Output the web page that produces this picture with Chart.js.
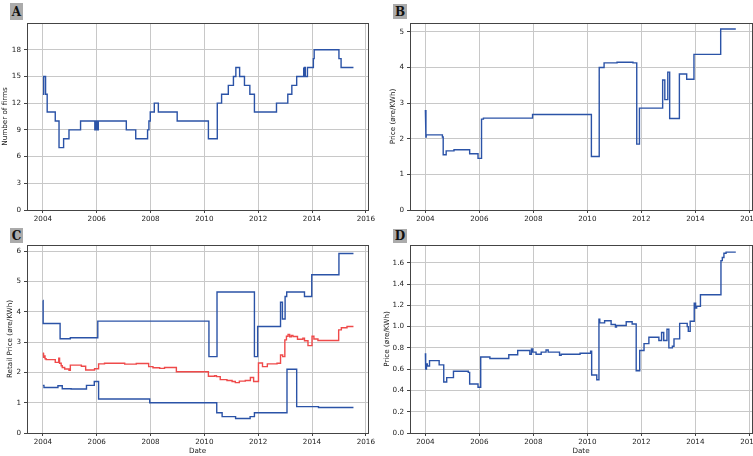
<!DOCTYPE html>
<html>
<head>
<meta charset="utf-8">
<script src="https://cdn.jsdelivr.net/npm/chart.js@4.4.1/dist/chart.umd.min.js"></script>
<style>
  html, body { margin: 0; padding: 0; width: 753px; height: 456px; overflow: hidden; background: #fff; }
  canvas { position: absolute; }
  .tag {
    position: absolute; background: #ababab; color: #111;
    font: bold 12px "DejaVu Serif", "Liberation Serif", serif;
    display: flex; align-items: center; justify-content: center; line-height: 1;
  }
</style>
</head>
<body>
<canvas id="panelA" width="376" height="228" style="left:0;top:0"></canvas>
<canvas id="panelB" width="400" height="228" style="left:376px;top:0"></canvas>
<canvas id="panelC" width="376" height="228" style="left:0;top:228px"></canvas>
<canvas id="panelD" width="400" height="228" style="left:376px;top:228px"></canvas>
<div class="tag" style="left:10px;top:3px;width:13px;height:17px">A</div>
<div class="tag" style="left:393px;top:4px;width:14px;height:15px">B</div>
<div class="tag" style="left:10px;top:228px;width:13px;height:15px">C</div>
<div class="tag" style="left:393px;top:229px;width:14px;height:14px">D</div>
<script>
// Shared x ticks (years)
const yearTicks = [2004, 2006, 2008, 2010, 2012, 2014, 2016];

// A: number of firms (each value holds from its date until the next date)
const firmDates = [2004.00, 2004.01, 2004.04, 2004.10, 2004.16, 2004.46, 2004.60, 2004.77, 2004.97, 2005.40,
  2005.93, 2005.98, 2006.02, 2006.06, 2007.10, 2007.45, 2007.89, 2007.94, 2007.99, 2008.14, 2008.29, 2008.99,
  2010.15, 2010.48, 2010.64, 2010.89, 2011.08, 2011.17, 2011.31, 2011.49, 2011.69, 2011.86, 2012.68, 2013.10,
  2013.25, 2013.43, 2013.67, 2013.70, 2013.72, 2013.75, 2013.83, 2014.05, 2014.08, 2015.00, 2015.08, 2015.54];
const firmCounts = [13, 14, 15, 13, 11, 10, 7, 8, 9, 10,
  9, 10, 9, 10, 9, 8, 9, 10, 11, 12, 11, 10,
  8, 12, 13, 14, 15, 16, 15, 14, 13, 11, 12, 13,
  14, 15, 16, 15, 16, 15, 16, 17, 18, 17, 16, 16];
const firmTicks = [0, 3, 6, 9, 12, 15, 18];

// B: price (øre/KWh)
const priceBDates = [2004.00, 2004.02, 2004.03, 2004.63, 2004.66, 2004.77, 2005.06, 2005.64, 2005.95, 2006.08,
  2006.15, 2007.97, 2010.15, 2010.44, 2010.62, 2011.10, 2011.69, 2011.83, 2011.93, 2012.79, 2012.87, 2012.98,
  2013.05, 2013.41, 2013.68, 2013.95, 2014.94, 2015.50];
const priceBValues = [2.81, 2.05, 2.11, 2.05, 1.55, 1.66, 1.69, 1.58, 1.45, 2.55,
  2.58, 2.68, 1.50, 4.00, 4.13, 4.15, 4.13, 1.85, 2.86, 3.65, 3.10, 3.87,
  2.57, 3.82, 3.67, 4.37, 5.08, 5.08];
const priceBTicks = [0, 1, 2, 3, 4, 5];

// C: retail price (øre/KWh) – highest, average and lowest offer
const retailHighDates = [2004.00, 2004.01, 2004.64, 2005.02, 2006.04, 2010.17, 2010.47, 2011.86, 2011.98, 2012.83,
  2012.90, 2013.00, 2013.06, 2013.72, 2013.99, 2015.00, 2015.54];
const retailHigh = [4.37, 3.61, 3.11, 3.14, 3.69, 2.52, 4.65, 2.52, 3.51, 4.31,
  3.76, 4.50, 4.65, 4.50, 5.22, 5.92, 5.92];

const retailMeanDates = [2004.00, 2004.02, 2004.03, 2004.05, 2004.08, 2004.12, 2004.46, 2004.59, 2004.62, 2004.68,
  2004.72, 2004.81, 2004.97, 2005.02, 2005.43, 2005.59, 2005.92, 2006.07, 2006.29, 2007.04, 2007.47, 2007.93,
  2008.09, 2008.34, 2008.52, 2008.96, 2010.15, 2010.38, 2010.45, 2010.59, 2010.84, 2011.03, 2011.15, 2011.30,
  2011.52, 2011.71, 2011.83, 2012.01, 2012.16, 2012.34, 2012.70, 2012.83, 2012.91, 2012.99, 2013.05, 2013.11,
  2013.17, 2013.23, 2013.29, 2013.46, 2013.66, 2013.72, 2013.85, 2014.00, 2014.07, 2014.22, 2014.99, 2015.09,
  2015.30, 2015.54];
const retailMean = [2.63, 2.56, 2.50, 2.54, 2.45, 2.42, 2.33, 2.47, 2.30, 2.22,
  2.16, 2.11, 2.07, 2.24, 2.20, 2.08, 2.12, 2.28, 2.30, 2.27, 2.29, 2.19,
  2.15, 2.13, 2.16, 2.02, 1.87, 1.89, 1.86, 1.76, 1.73, 1.70, 1.66, 1.71,
  1.73, 1.83, 1.70, 2.31, 2.19, 2.28, 2.30, 2.57, 2.52, 3.07, 3.19, 3.25,
  3.17, 3.22, 3.18, 3.09, 3.13, 3.04, 2.88, 3.19, 3.10, 3.05, 3.40, 3.47,
  3.51, 3.51];

const retailLowDates = [2004.00, 2004.04, 2004.56, 2004.72, 2005.05, 2005.62, 2005.91, 2006.07, 2007.97, 2010.46,
  2010.66, 2011.16, 2011.70, 2011.86, 2013.07, 2013.43, 2014.24, 2015.54];
const retailLow = [1.57, 1.50, 1.56, 1.46, 1.45, 1.57, 1.70, 1.12, 1.00, 0.67,
  0.54, 0.48, 0.54, 0.67, 2.10, 0.87, 0.84, 0.84];
const retailTicks = [0, 1, 2, 3, 4, 5, 6];

// D: price (øre/KWh)
const priceDDates = [2004.00, 2004.01, 2004.04, 2004.07, 2004.14, 2004.16, 2004.51, 2004.68, 2004.79, 2005.04,
  2005.59, 2005.64, 2005.95, 2006.05, 2006.39, 2007.09, 2007.42, 2007.87, 2007.93, 2007.98, 2008.10, 2008.29,
  2008.47, 2008.55, 2008.97, 2009.03, 2009.73, 2010.12, 2010.16, 2010.35, 2010.43, 2010.46, 2010.64, 2010.88,
  2011.04, 2011.08, 2011.44, 2011.66, 2011.81, 2011.94, 2012.10, 2012.28, 2012.65, 2012.75, 2012.83, 2012.95,
  2013.02, 2013.15, 2013.21, 2013.42, 2013.70, 2013.74, 2013.81, 2013.96, 2014.01, 2014.05, 2014.19, 2014.95,
  2015.00, 2015.06, 2015.14, 2015.50];
const priceDValues = [0.75, 0.60, 0.65, 0.63, 0.66, 0.68, 0.64, 0.48, 0.52, 0.58,
  0.57, 0.46, 0.43, 0.715, 0.70, 0.735, 0.775, 0.74, 0.79, 0.76, 0.74, 0.76,
  0.78, 0.76, 0.73, 0.74, 0.75, 0.77, 0.545, 0.50, 1.07, 1.035, 1.055, 1.02,
  0.995, 1.01, 1.045, 1.025, 0.585, 0.775, 0.84, 0.90, 0.87, 0.945, 0.87, 0.975,
  0.80, 0.815, 0.885, 1.03, 1.00, 0.955, 1.05, 1.22, 1.175, 1.19, 1.30, 1.62,
  1.65, 1.69, 1.70, 1.70];
const priceDTicks = [0, 0.2, 0.4, 0.6, 0.8, 1.0, 1.2, 1.4, 1.6];

const BLUE = '#2b53a7';
const RED = '#ef4a4a';
const FONT = { family: 'DejaVu Sans', size: 7.2 };
const TEXT = '#222';

// Expand change points into a step line
function stepPoints(dates, values) {
  const pts = [];
  for (let i = 0; i < dates.length; i++) {
    if (i > 0) pts.push({ x: dates[i], y: values[i - 1] });
    pts.push({ x: dates[i], y: values[i] });
  }
  return pts;
}

// Axes frame drawn on all four sides
const framePlugin = {
  id: 'frame',
  afterDraw(chart) {
    const { ctx, chartArea: a } = chart;
    const al = v => Math.round(v - 0.5) + 0.5;
    const x0 = al(a.left), x1 = al(a.right), y0 = al(a.top), y1 = al(a.bottom);
    ctx.save();
    ctx.strokeStyle = '#444';
    ctx.lineWidth = 1;
    ctx.strokeRect(x0, y0, x1 - x0, y1 - y0);
    ctx.restore();
  }
};

function makePanel(id, cfg) {
  return new Chart(document.getElementById(id), {
    type: 'line',
    data: {
      datasets: cfg.series.map(s => ({
        data: stepPoints(s.dates, s.values),
        borderColor: s.color,
        borderWidth: 1.4,
        pointRadius: 0,
        fill: false,
        tension: 0
      }))
    },
    options: {
      responsive: false,
      animation: false,
      events: [],
      layout: { padding: cfg.padding },
      plugins: { legend: { display: false }, tooltip: { enabled: false } },
      scales: {
        x: {
          type: 'linear',
          min: cfg.xMin, max: cfg.xMax,
          afterBuildTicks: s => { s.ticks = yearTicks.map(v => ({ value: v })); },
          afterFit: s => { s.height = cfg.xHeight; s.paddingLeft = 0; s.paddingRight = 0; },
          grid: { color: '#c8c8c8', lineWidth: 1, tickLength: 3, tickColor: '#444' },
          border: { display: false },
          ticks: { font: FONT, color: TEXT, padding: 1.5, maxRotation: 0, autoSkip: false,
                   callback: v => String(v) },
          title: cfg.xTitle
            ? { display: true, text: cfg.xTitle, font: FONT, color: TEXT, padding: { top: 0, bottom: 1 } }
            : { display: false }
        },
        y: {
          type: 'linear',
          min: 0, max: cfg.yMax,
          afterBuildTicks: s => { s.ticks = cfg.yTicks.map(v => ({ value: v })); },
          afterFit: s => { s.width = cfg.yWidth; s.paddingTop = 0; s.paddingBottom = 0; },
          grid: { color: '#c8c8c8', lineWidth: 1, tickLength: 3, tickColor: '#444' },
          border: { display: false },
          ticks: { font: FONT, color: TEXT, padding: 3, autoSkip: false, callback: cfg.yFormat },
          title: { display: true, text: cfg.yTitle, font: FONT, color: TEXT,
                   padding: { top: cfg.yTitlePad, bottom: 0 } }
        }
      }
    },
    plugins: [framePlugin]
  });
}

makePanel('panelA', {
  series: [{ dates: firmDates, values: firmCounts, color: BLUE }],
  padding: { left: 0, top: 23, right: 8, bottom: 0 },
  xMin: 2003.41, xMax: 2016.08, xHeight: 18,
  yMax: 21.0, yTicks: firmTicks, yWidth: 27, yTitlePad: 1,
  yFormat: v => String(v), yTitle: 'Number of firms'
});

makePanel('panelB', {
  series: [{ dates: priceBDates, values: priceBValues, color: BLUE }],
  padding: { left: 0, top: 23, right: 24, bottom: 0 },
  xMin: 2003.43, xMax: 2016.10, xHeight: 18,
  yMax: 5.25, yTicks: priceBTicks, yWidth: 34, yTitlePad: 13,
  yFormat: v => String(v), yTitle: 'Price (øre/KWh)'
});

makePanel('panelC', {
  series: [
    { dates: retailHighDates, values: retailHigh, color: BLUE },
    { dates: retailMeanDates, values: retailMean, color: RED },
    { dates: retailLowDates, values: retailLow, color: BLUE }
  ],
  padding: { left: 0, top: 17, right: 8, bottom: 0 },
  xMin: 2003.41, xMax: 2016.08, xHeight: 23, xTitle: 'Date',
  yMax: 6.2, yTicks: retailTicks, yWidth: 27, yTitlePad: 6,
  yFormat: v => String(v), yTitle: 'Retail Price (øre/KWh)'
});

makePanel('panelD', {
  series: [{ dates: priceDDates, values: priceDValues, color: BLUE }],
  padding: { left: 0, top: 17, right: 24, bottom: 0 },
  xMin: 2003.43, xMax: 2016.10, xHeight: 23, xTitle: 'Date',
  yMax: 1.767, yTicks: priceDTicks, yWidth: 34, yTitlePad: 6.5,
  yFormat: v => v.toFixed(1), yTitle: 'Price (øre/KWh)'
});
</script>
</body>
</html>
